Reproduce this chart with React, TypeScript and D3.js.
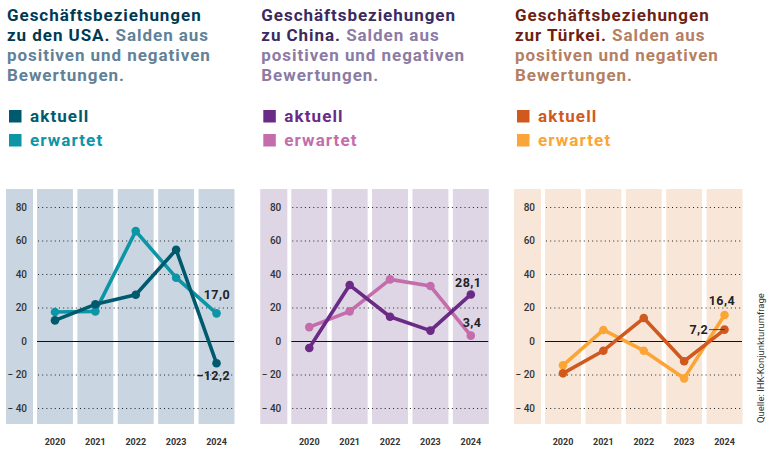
import React from 'react';
import * as d3 from 'd3';

const years = ['2020', '2021', '2022', '2023', '2024'];
const yTicks = [80, 60, 40, 20, 0, -20, -40];

const usaAktuell = [12.3, 21.9, 27.6, 54.5, -13.3];
const usaErwartet = [17.3, 17.7, 65.6, 37.8, 16.5];
const chinaAktuell = [-4.2, 33.4, 14.5, 6.2, 27.8];
const chinaErwartet = [8.3, 17.7, 36.8, 32.8, 3.2];
const tuerkeiAktuell = [-19.3, -5.8, 13.7, -12.1, 6.8];
const tuerkeiErwartet = [-14.5, 6.6, -5.8, -22.3, 15.5];

const font = 'Roboto, sans-serif';
const fmt = (v: number) => (v < 0 ? '\u2212 ' + Math.abs(v) : String(v));

const y = d3.scaleLinear().domain([0, 80]).range([341, 207]);
const yBottom = 424;
const yTop = 189;

function Panel({ dx, lead, sub, head, soft, band, aktuell, erwartet, cAkt, cErw, labels }: any) {
  const x = d3.scaleBand<string>().domain(years).range([37, 234.5]).paddingInner(0.11);
  const px = (yr: string) => x(yr)! + x.bandwidth() / 2;
  const line = d3.line<number>().x((_, i) => px(years[i])).y(d => y(d));
  return (
    <g transform={`translate(${dx},0)`}>
      <text fontFamily={font} fontWeight={700} fontSize={17} letterSpacing={0.95}>
        <tspan x={7} y={21} fill={head}>Geschäftsbeziehungen</tspan>
        <tspan x={7} y={41} fill={head}>{lead} </tspan>
        <tspan fill={soft}>Salden aus</tspan>
        <tspan x={7} y={61} fill={soft}>positiven und negativen</tspan>
        <tspan x={7} y={81} fill={soft}>{sub}</tspan>
      </text>
      <rect x={9} y={110} width={12.5} height={12.5} fill={cAkt} />
      <rect x={9} y={134} width={12.5} height={12.5} fill={cErw} />
      <text x={30} y={122} fontFamily={font} fontWeight={700} fontSize={17} letterSpacing={1.1} fill={cAkt}>aktuell</text>
      <text x={30} y={146} fontFamily={font} fontWeight={700} fontSize={17} letterSpacing={1.1} fill={cErw}>erwartet</text>

      <rect x={6} y={yTop} width={27} height={yBottom - yTop} fill={band} />
      {years.map(yr => (
        <rect key={yr} x={x(yr)} y={yTop} width={x.bandwidth()} height={yBottom - yTop} fill={band} />
      ))}
      {yTicks.map(t => (
        <g key={t}>
          {t === 0 ? (
            <line x1={37} x2={234} y1={y(t) + 0.5} y2={y(t) + 0.5} stroke="#111" strokeWidth={1} />
          ) : (
            <line x1={38} x2={234} y1={y(t) + 0.5} y2={y(t) + 0.5} stroke="#222" strokeWidth={1} strokeDasharray="1 3.2" />
          )}
          <text x={27} y={y(t) + 3.5} textAnchor="end" fontFamily={font} fontSize={10} fontWeight={500} fill="#333">{fmt(t)}</text>
        </g>
      ))}
      {years.map(yr => (
        <text key={yr} x={px(yr)} y={445} textAnchor="middle" fontFamily={font} fontSize={9} fontWeight={700} fill="#333">{yr}</text>
      ))}
      <path d={line(erwartet)!} fill="none" stroke={cErw} strokeWidth={3.6} strokeLinejoin="round" />
      {erwartet.map((v: number, i: number) => <circle key={i} cx={px(years[i])} cy={y(v)} r={4.3} fill={cErw} />)}
      <path d={line(aktuell)!} fill="none" stroke={cAkt} strokeWidth={3.6} strokeLinejoin="round" />
      {aktuell.map((v: number, i: number) => <circle key={i} cx={px(years[i])} cy={y(v)} r={4.3} fill={cAkt} />)}
      {labels.map((l: any) => (
        <text key={l.text} x={l.x} y={l.y} textAnchor="end" fontFamily={font} fontWeight={700} fontSize={12.5} letterSpacing={0.4} fill="#222">{l.text}</text>
      ))}
      {labels.filter((l: any) => l.tie).map((l: any) => (
        <line key={l.text} x1={l.x + 1} x2={px('2024')} y1={y(aktuell[4])} y2={y(aktuell[4])} stroke="#222" strokeWidth={0.8} />
      ))}
    </g>
  );
}

export default function App() {
  return (
    <svg width={774} height={453} style={{ position: 'absolute', left: 0, top: 0, background: '#fff' }}>
      <Panel dx={0} lead="zu den USA." sub="Bewertungen." head="#003a52" soft="#5f8299" band="#c9d6e2"
        aktuell={usaAktuell} erwartet={usaErwartet} cAkt="#005a6e" cErw="#0c95a5"
        labels={[{ text: '17,0', x: 230, y: 299 }, { text: '\u221212,2', x: 230, y: 380 }]} />
      <Panel dx={254.3} lead="zu China." sub="Bewertungen." head="#3a2a60" soft="#8c7ba3" band="#ded5e5"
        aktuell={chinaAktuell} erwartet={chinaErwartet} cAkt="#6a2a85" cErw="#c46cac"
        labels={[{ text: '28,1', x: 227, y: 287 }, { text: '3,4', x: 227, y: 327 }]} />
      <Panel dx={508} lead="zur Türkei." sub="Bewertungen." head="#6d1f12" soft="#b57f62" band="#f8e7d8"
        aktuell={tuerkeiAktuell} erwartet={tuerkeiErwartet} cAkt="#d05a1e" cErw="#fba536"
        labels={[{ text: '16,4', x: 227, y: 305 }, { text: '7,2', x: 200, y: 334, tie: true }]} />
      <text transform="translate(764,423) rotate(-90)" fontFamily={font} fontSize={9.5} fill="#333">Quelle: IHK-Konjunkturumfrage</text>
    </svg>
  );
}
